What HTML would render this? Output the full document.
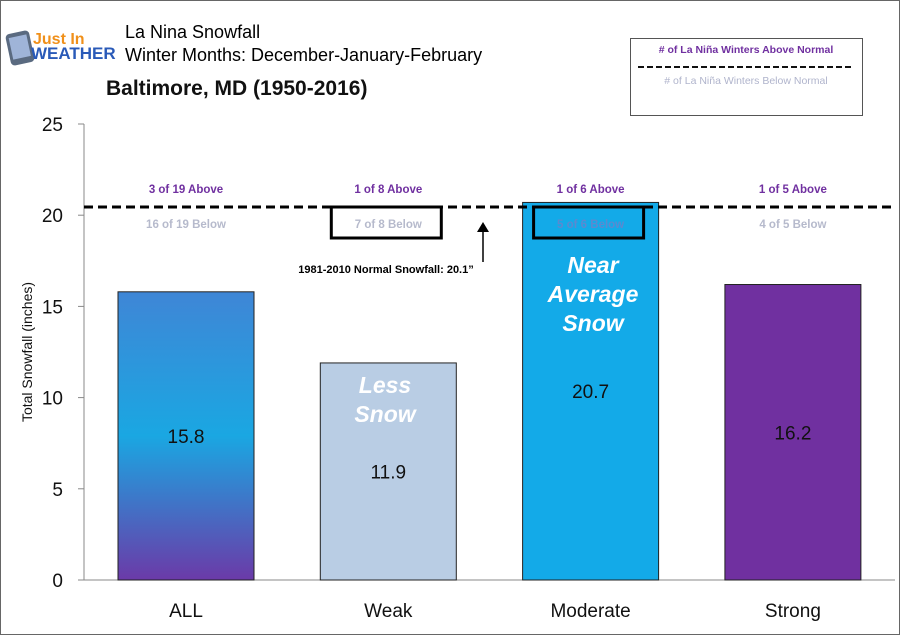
<!DOCTYPE html>
<html><head><meta charset="utf-8"><style>
body{margin:0;background:#fff;font-family:"Liberation Sans",sans-serif}
svg text{font-family:"Liberation Sans",sans-serif}
</style></head><body>
<svg id="c" width="900" height="635" xmlns="http://www.w3.org/2000/svg">
<defs>
<linearGradient id="gAll" x1="0" y1="0" x2="0" y2="1">
<stop offset="0" stop-color="#3f86d6"/><stop offset="0.5" stop-color="#1aa7e2"/><stop offset="1" stop-color="#6b3aa8"/>
</linearGradient>
</defs>
<rect x="0.5" y="0.5" width="899" height="634" fill="#fff" stroke="#666"/>
<g>
<rect x="8" y="32" width="24" height="32" rx="4" fill="#5a6a80" transform="rotate(-12 20 48)"/>
<rect x="11" y="36" width="18" height="22" fill="#9fb4d8" transform="rotate(-12 20 48)"/>
<text x="33" y="44" font-size="16" font-weight="bold" fill="#f0901a">Just In</text>
<text x="31" y="59" font-size="17" font-weight="bold" fill="#2a5ab8">WEATHER</text>
</g>
<text x="125" y="38" font-size="18" fill="#000">La Nina Snowfall</text>
<text x="125" y="61" font-size="18" fill="#000">Winter Months: December-January-February</text>
<text x="106" y="95" font-size="21" font-weight="bold" fill="#111">Baltimore, MD (1950-2016)</text>
<g>
<rect x="630.5" y="38.5" width="232" height="77" fill="#fff" stroke="#555"/>
<text x="746" y="53" font-size="10.5" font-weight="bold" fill="#7030a0" text-anchor="middle"># of La Niña Winters Above Normal</text>
<line x1="638" y1="67" x2="853" y2="67" stroke="#111" stroke-width="2" stroke-dasharray="6,3"/>
<text x="746" y="84" font-size="10.5" fill="#b0b4cc" text-anchor="middle"># of La Niña Winters Below Normal</text>
</g>
<g id="axes"></g>
<g id="bars"></g>
<g id="ann"></g>
</svg>
<script>
const categories=["ALL","Weak","Moderate","Strong"];
const values=[15.8,11.9,20.7,16.2];
const aboveLabels=["3 of 19 Above","1 of 8 Above","1 of 6 Above","1 of 5 Above"];
const belowLabels=["16 of 19 Below","7 of 8 Below","5 of 6 Below","4 of 5 Below"];
const yTicks=[0,5,10,15,20,25];
const normalValue=20.45;
const NS="http://www.w3.org/2000/svg";
const y0=580,y1=124,yMax=25;
function yScale(v){return y0-(v/yMax)*(y0-y1);}
function xCenter(i){return 186+i*202.3;}
const barW=136;
const fills=["url(#gAll)","#b9cde4","#13aae8","#7030a0"];
function mk(tag,attrs,parent,txt){const e=document.createElementNS(NS,tag);for(const k in attrs)e.setAttribute(k,attrs[k]);if(txt!==undefined)e.textContent=txt;parent.appendChild(e);return e;}
const axes=document.getElementById('axes'),bars=document.getElementById('bars'),ann=document.getElementById('ann');
const ax=mk('line',{x1:84,y1:y1,x2:84,y2:y0,stroke:'#888'},axes);


const bx=mk('line',{x1:84,y1:y0,x2:895,y2:y0,stroke:'#888'},axes);


yTicks.forEach(t=>{const y=yScale(t);
mk('line',{x1:78,y1:y,x2:84,y2:y,stroke:'#888'},axes);
const l=mk('text',{x:63,y:y+7,'font-size':19,'text-anchor':'end',fill:'#111'},axes,String(t));

});
const yt=mk('text',{x:0,y:0,'font-size':14,'text-anchor':'middle',fill:'#111',transform:'translate(32,352) rotate(-90)'},axes,'Total Snowfall (inches)');


categories.forEach((c,i)=>{const cx=xCenter(i),top=yScale(values[i]);
const r=mk('rect',{x:cx-barW/2,y:top,width:barW,height:y0-top,fill:fills[i],stroke:'#222','stroke-width':1},bars);


const v=mk('text',{x:cx,y:yScale(values[i]/2)+7,'font-size':19,'text-anchor':'middle',fill:'#111'},bars,values[i].toFixed(1));


const cl=mk('text',{x:cx,y:617,'font-size':19,'text-anchor':'middle',fill:'#111'},axes,c);


const a=mk('text',{x:cx,y:193,'font-size':11.5,'font-weight':'bold','text-anchor':'middle',fill:'#7030a0'},ann,aboveLabels[i]);


const b=mk('text',{x:cx,y:228,'font-size':11.5,'font-weight':'bold','text-anchor':'middle',fill:i==2?'#5a8ad0':'#b6bacc'},ann,belowLabels[i]);

});
[1,2].forEach(i=>{const bxr=mk('rect',{x:xCenter(i)-57,y:207,width:110,height:31,fill:'none',stroke:'#000','stroke-width':3},ann);

});
const nl=mk('line',{x1:84,y1:yScale(normalValue),x2:895,y2:yScale(normalValue),stroke:'#000','stroke-width':3,'stroke-dasharray':'9,5'},ann);


mk('line',{x1:483,y1:262,x2:483,y2:228,stroke:'#000','stroke-width':1.5},ann);
mk('path',{d:'M477,232 L483,222 L489,232 Z',fill:'#000'},ann);
const nt=mk('text',{x:386,y:273,'font-size':11,'font-weight':'bold','text-anchor':'middle',fill:'#000'},ann,'1981-2010  Normal Snowfall: 20.1”');


function note(lines,x,y,name){lines.forEach((t,k)=>{const e=mk('text',{x:x,y:y+k*29,'font-size':23,'font-weight':'bold','font-style':'italic','text-anchor':'middle',fill:'#fff'},ann,t);

});}
note(['Less','Snow'],385,393,'less-snow-note');
note(['Near','Average','Snow'],593,273,'near-average-note');
</script>
</body></html>
